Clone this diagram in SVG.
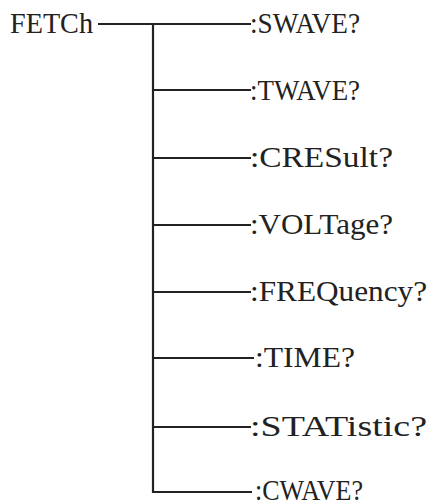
<svg xmlns="http://www.w3.org/2000/svg" width="433" height="504" viewBox="0 0 433 504">
<style>
.t{font-family:"Liberation Serif","DejaVu Serif",serif;font-size:30px;fill:#222}
.c{stroke:#222;stroke-width:2.2;fill:none}
</style>
<rect width="433" height="504" fill="#fff"/>
<g id="connectors">
<path class="c" d="M98,24 H251"/>
<path class="c" d="M153,24 V492 H252"/>
<path class="c" d="M153,90 H251"/>
<path class="c" d="M153,158 H251"/>
<path class="c" d="M153,225 H251"/>
<path class="c" d="M153,292 H251"/>
<path class="c" d="M153,358 H254"/>
<path class="c" d="M153,427 H251"/>
</g>
<g id="fetch"><text class="t" x="10" y="33" textLength="83" lengthAdjust="spacingAndGlyphs">FETCh</text></g>
<g id="swave"><text class="t" x="250" y="33" textLength="110" lengthAdjust="spacingAndGlyphs">:SWAVE?</text></g>
<g id="twave"><text class="t" x="250" y="100" textLength="110" lengthAdjust="spacingAndGlyphs">:TWAVE?</text></g>
<g id="cresult"><text class="t" x="250" y="167" textLength="143" lengthAdjust="spacingAndGlyphs">:CRESult?</text></g>
<g id="voltage"><text class="t" x="250" y="234" textLength="143" lengthAdjust="spacingAndGlyphs">:VOLTage?</text></g>
<g id="frequency"><text class="t" x="250" y="301" textLength="177" lengthAdjust="spacingAndGlyphs">:FREQuency?</text></g>
<g id="time"><text class="t" x="255" y="367" textLength="100" lengthAdjust="spacingAndGlyphs">:TIME?</text></g>
<g id="statistic"><text class="t" x="250" y="436" textLength="177" lengthAdjust="spacingAndGlyphs">:STATistic?</text></g>
<g id="cwave"><text class="t" x="255" y="500" textLength="108" lengthAdjust="spacingAndGlyphs">:CWAVE?</text></g>
</svg>
